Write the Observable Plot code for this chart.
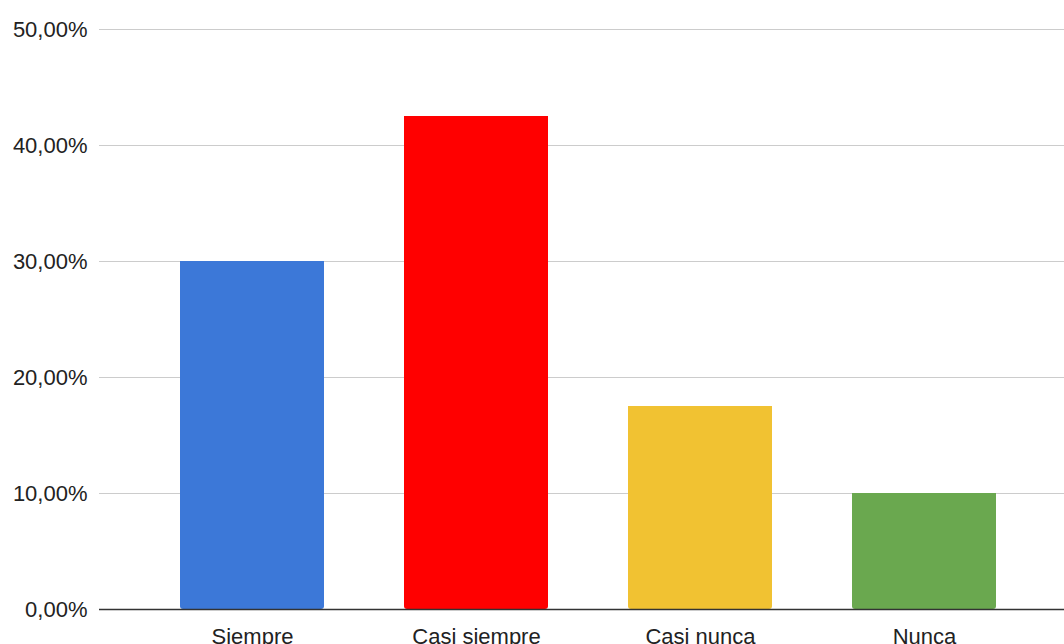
<!DOCTYPE html>
<html>
<head>
<meta charset="utf-8">
<script src="https://cdn.jsdelivr.net/npm/d3@7"></script>
<script src="https://cdn.jsdelivr.net/npm/@observablehq/plot@0.6"></script>
<style>
  html, body { margin: 0; padding: 0; background: #fff; overflow: hidden; }
  #chart svg { display: block; }
</style>
</head>
<body>
<div id="chart"></div>
<script>
// Frequency of responses (share of total)
const categories = ["Siempre", "Casi siempre", "Casi nunca", "Nunca"];
const shares = [0.30, 0.425, 0.175, 0.10];
const barColors = ["#3c78d8", "#ff0000", "#f1c232", "#6aa84f"];
const yTicks = [0, 0.1, 0.2, 0.3, 0.4, 0.5];

const data = categories.map((c, i) => ({category: c, share: shares[i]}));

// Spanish number format: comma as decimal separator
const es = d3.formatLocale({decimal: ",", thousands: ".", grouping: [3], currency: ["", " €"]});
const pct = es.format(".2%");

const chart = Plot.plot({
  width: 1064,
  height: 644,
  marginTop: 29,
  marginBottom: 35,
  marginLeft: 99,
  marginRight: 0,
  style: {fontFamily: "'Liberation Sans', Arial, sans-serif", fontSize: "22px", color: "#222", background: "#fff"},
  x: {domain: categories, range: [99, 1078], paddingInner: 0.355, paddingOuter: 0.355, label: null},
  y: {domain: [0, 0.5], label: null},
  color: {domain: categories, range: barColors},
  marks: [
    Plot.gridY(yTicks, {stroke: "#cccccc", strokeOpacity: 1, strokeWidth: 1}),
    Plot.barY(data, {x: "category", y: "share", fill: "category", ry2: 3}),
    Plot.ruleY([0], {stroke: "#333333", strokeWidth: 1.4}),
    Plot.axisY(yTicks, {tickSize: 0, tickPadding: 12, tickFormat: pct, fontSize: 22, fill: "#222"}),
    Plot.axisX({tickSize: 0, tickPadding: 19, fontSize: 22, fill: "#222"})
  ]
});

document.getElementById("chart").appendChild(chart);
</script>
</body>
</html>
